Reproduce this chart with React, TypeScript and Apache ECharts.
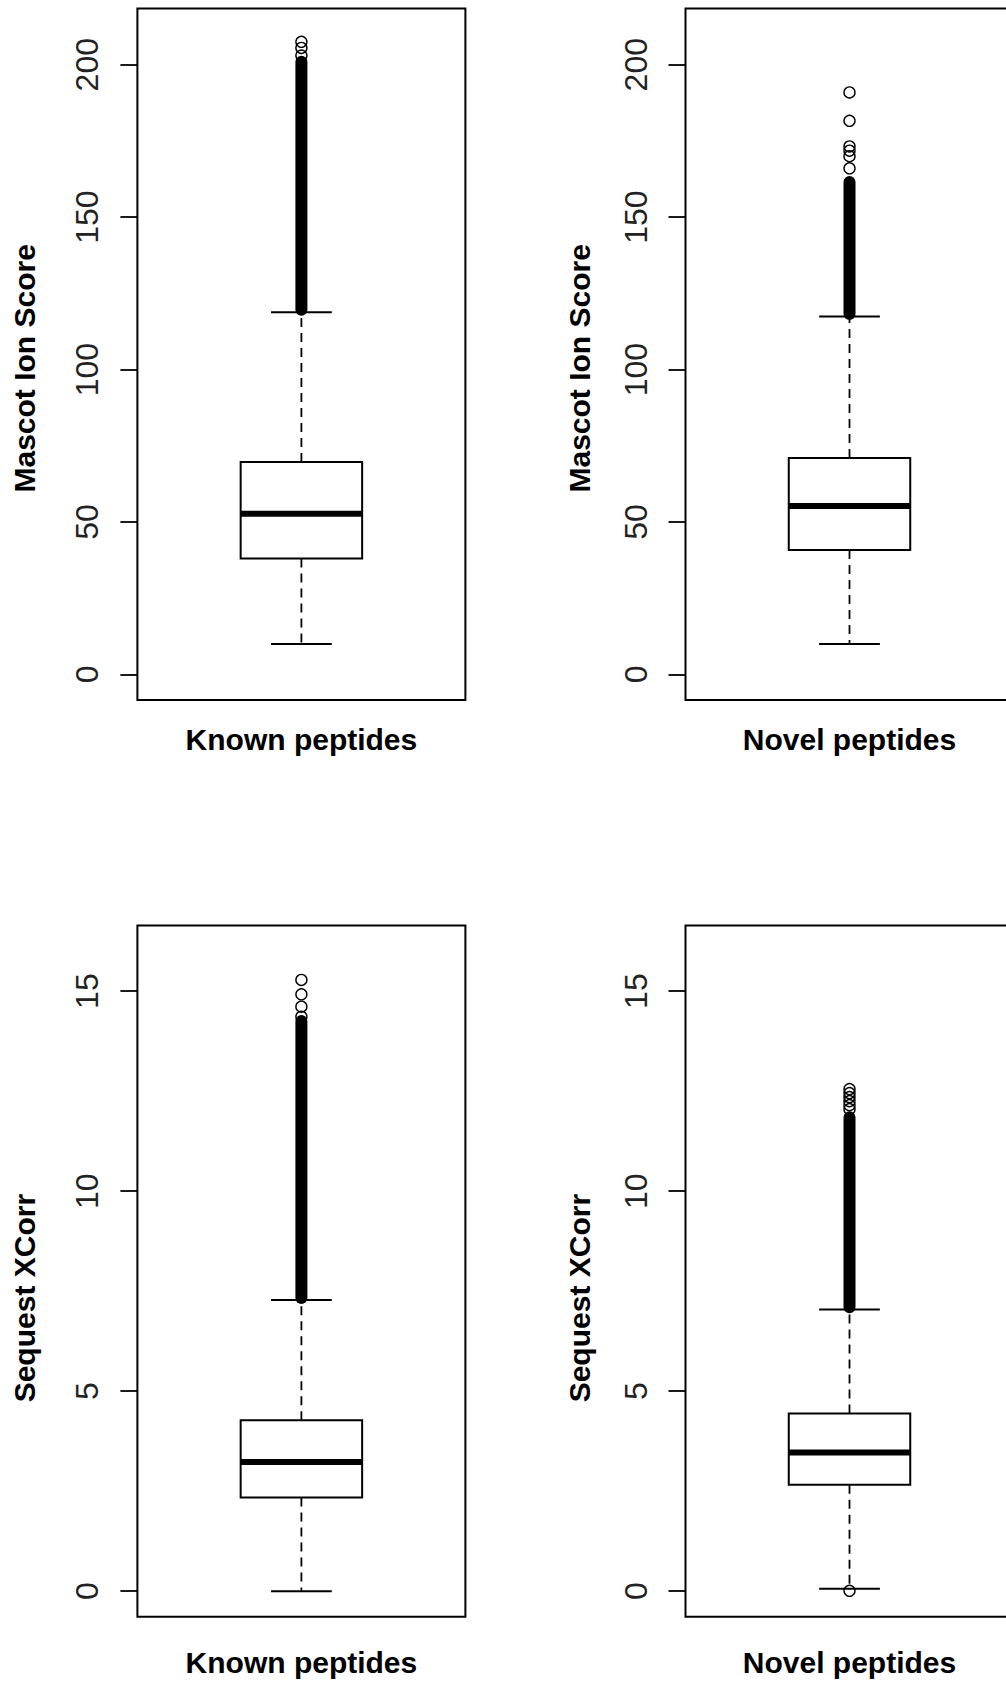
import React, { useEffect, useRef } from "react";
import * as echarts from "echarts";

// ---------- data ----------
const xTitles = ["Known peptides", "Novel peptides", "Known peptides", "Novel peptides"];
const yTitles = ["Mascot Ion Score", "Mascot Ion Score", "Sequest XCorr", "Sequest XCorr"];

const mascotTicks = [0, 50, 100, 150, 200];
const xcorrTicks = [0, 5, 10, 15];
const mascotLimits = [0, 210];
const xcorrLimits = [0, 16];

// [lower whisker, Q1, median, Q3, upper whisker]
const knownMascotBox = [10, 38, 52.7, 69.7, 118.8];
const novelMascotBox = [10, 40.8, 55.2, 71, 117.4];
const knownXcorrBox = [0, 2.34, 3.23, 4.27, 7.28];
const novelXcorrBox = [0.06, 2.66, 3.47, 4.44, 7.04];

// runs of overlapping outliers that print as a solid column [from, to]
const knownMascotDense = [119.6, 201];
const novelMascotDense = [118.2, 161.5];
const knownXcorrDense = [7.33, 14.25];
const novelXcorrDense = [7.1, 11.85];

// separately visible outliers
const knownMascotOutliers = [203, 205.5, 207.5];
const novelMascotOutliers = [166, 170, 171.8, 173.2, 181.6, 190.9];
const knownXcorrOutliers = [14.36, 14.61, 14.92, 15.28];
const novelXcorrOutliers = [0.01, 12.05, 12.15, 12.25, 12.35, 12.45, 12.55];

// ---------- layout / style ----------
const FONT = "'Liberation Sans', Arial, Helvetica, sans-serif";
const BOX_HALF = 0.2;
const STAPLE_HALF = 0.1;
const BAND_HALF_PX = 6;

const panels = [
  { box: knownMascotBox, dense: knownMascotDense, out: knownMascotOutliers, ticks: mascotTicks, lim: mascotLimits, left: 137.4, top: 8.6, bottom: 700, nameGap: 98, titleShift: 14, xGap: 24 },
  { box: novelMascotBox, dense: novelMascotDense, out: novelMascotOutliers, ticks: mascotTicks, lim: mascotLimits, left: 685.5, top: 8.6, bottom: 700, nameGap: 91, titleShift: 14, xGap: 24 },
  { box: knownXcorrBox, dense: knownXcorrDense, out: knownXcorrOutliers, ticks: xcorrTicks, lim: xcorrLimits, left: 137.4, top: 925.5, bottom: 1616.8, nameGap: 98, titleShift: 27, xGap: 31 },
  { box: novelXcorrBox, dense: novelXcorrDense, out: novelXcorrOutliers, ticks: xcorrTicks, lim: xcorrLimits, left: 685.5, top: 925.5, bottom: 1616.8, nameGap: 91, titleShift: 27, xGap: 31 },
];
const PLOT_W = 328;

function boxRender(_params: any, api: any) {
  const x = api.value(0);
  const lo = api.value(1), q1 = api.value(2), med = api.value(3), q3 = api.value(4), hi = api.value(5);
  const [xl, yq3] = api.coord([x - BOX_HALF, q3]);
  const [xr, yq1] = api.coord([x + BOX_HALF, q1]);
  const [, ymed] = api.coord([x, med]);
  const [xc, yhi] = api.coord([x, hi]);
  const [, ylo] = api.coord([x, lo]);
  const [sl] = api.coord([x - STAPLE_HALF, hi]);
  const [sr] = api.coord([x + STAPLE_HALF, hi]);
  const dash = { stroke: "#000", lineWidth: 1.8, lineDash: [9, 6] };
  const solid = { stroke: "#000", lineWidth: 2 };
  return {
    type: "group",
    children: [
      { type: "line", shape: { x1: xc, y1: yq3, x2: xc, y2: yhi }, style: dash },
      { type: "line", shape: { x1: xc, y1: yq1, x2: xc, y2: ylo }, style: dash },
      { type: "line", shape: { x1: sl, y1: yhi, x2: sr, y2: yhi }, style: solid },
      { type: "line", shape: { x1: sl, y1: ylo, x2: sr, y2: ylo }, style: solid },
      { type: "rect", shape: { x: xl, y: yq3, width: xr - xl, height: yq1 - yq3 }, style: { fill: "#fff", stroke: "#000", lineWidth: 2 } },
      { type: "line", shape: { x1: xl, y1: ymed, x2: xr, y2: ymed }, style: { stroke: "#000", lineWidth: 6 } },
    ],
  };
}

function bandRender(_params: any, api: any) {
  const x = api.value(0);
  const [xc, yTop] = api.coord([x, api.value(2)]);
  const [, yBot] = api.coord([x, api.value(1)]);
  return {
    type: "rect",
    shape: {
      x: xc - BAND_HALF_PX,
      y: yTop - BAND_HALF_PX,
      width: BAND_HALF_PX * 2,
      height: yBot - yTop + BAND_HALF_PX * 2,
      r: BAND_HALF_PX,
    },
    style: { fill: "#000" },
  };
}

export default function App() {
  const ref = useRef<HTMLDivElement>(null);
  useEffect(() => {
    document.body.style.margin = "0";
    if (!ref.current) return;
    const chart = echarts.init(ref.current, null, { renderer: "svg" });
    const grid: any[] = [];
    const xAxis: any[] = [];
    const yAxis: any[] = [];
    const series: any[] = [];
    panels.forEach((p, i) => {
      const ext = (p.lim[1] - p.lim[0]) * 0.04;
      grid.push({
        left: p.left,
        top: p.top,
        width: PLOT_W,
        height: p.bottom - p.top,
        show: true,
        borderColor: "#000",
        borderWidth: 2,
        backgroundColor: "transparent",
        containLabel: false,
        outerBoundsMode: "none",
      });
      xAxis.push({
        gridIndex: i,
        type: "value",
        min: 0.46,
        max: 1.54,
        axisLine: { show: false },
        axisTick: { show: false },
        axisLabel: { show: false },
        splitLine: { show: false },
        name: xTitles[i],
        nameLocation: "middle",
        nameGap: p.xGap,
        nameTextStyle: { fontSize: 30, fontWeight: "bold", color: "#000", fontFamily: FONT },
      });
      yAxis.push({
        gridIndex: i,
        type: "value",
        min: p.lim[0] - ext,
        max: p.lim[1] + ext,
        axisLine: { show: false },
        axisTick: { show: true, length: 17, lineStyle: { color: "#000", width: 1.8 }, customValues: p.ticks },
        axisLabel: {
          show: true,
          rotate: 90,
          margin: 34,
          fontSize: 32,
          color: "#222",
          fontFamily: FONT,
          customValues: p.ticks,
          formatter: (v: number) => String(v),
        },
        splitLine: { show: false },
        name: yTitles[i],
        nameLocation: "middle",
        nameRotate: 90,
        nameGap: p.nameGap,
        nameTextStyle: {
          fontSize: 30,
          fontWeight: "bold",
          color: "#000",
          fontFamily: FONT,
          padding: [0, p.titleShift * 2, 0, 0],
        },
      });
      series.push({
        type: "custom",
        xAxisIndex: i,
        yAxisIndex: i,
        silent: true,
        renderItem: boxRender,
        encode: { x: 0, y: [1, 2, 3, 4, 5] },
        data: [[1, ...p.box]],
        z: 2,
      });
      series.push({
        type: "custom",
        xAxisIndex: i,
        yAxisIndex: i,
        silent: true,
        renderItem: bandRender,
        encode: { x: 0, y: [1, 2] },
        data: [[1, ...p.dense]],
        z: 3,
      });
      series.push({
        type: "scatter",
        xAxisIndex: i,
        yAxisIndex: i,
        silent: true,
        symbol: "circle",
        symbolSize: 11,
        itemStyle: { color: "rgba(0,0,0,0)", borderColor: "#000", borderWidth: 1.4, opacity: 1 },
        data: p.out.map((v) => [1, v]),
        z: 4,
      });
    });
    chart.setOption({
      animation: false,
      backgroundColor: "#fff",
      grid,
      xAxis,
      yAxis,
      series,
    });
    return () => chart.dispose();
  }, []);
  return (
    <div
      ref={ref}
      style={{ position: "absolute", left: 0, top: 0, width: 1006, height: 1684 }}
    />
  );
}
